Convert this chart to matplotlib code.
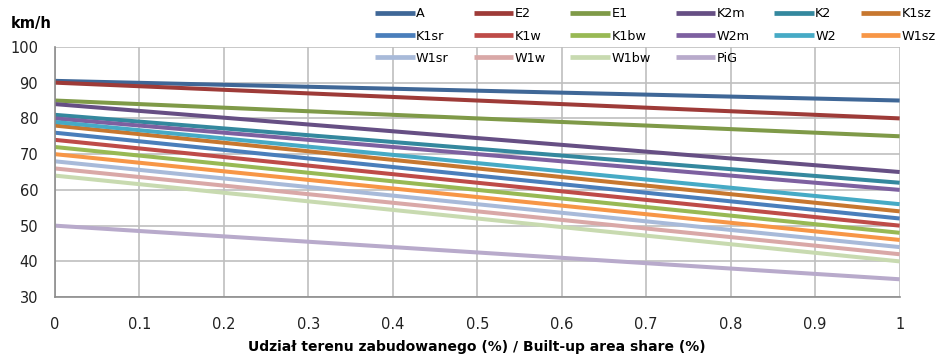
import matplotlib.pyplot as plt

# x range: built-up area share
x = [0, 1]

names = ["A", "E2", "E1", "K2m", "K2", "K1sz",
         "K1sr", "K1w", "K1bw", "W2m", "W2", "W1sz",
         "W1sr", "W1w", "W1bw", "PiG"]

# speed (km/h) at share 0 and share 1
start = [90.5, 90, 85, 84, 81, 78,
         76, 74, 72, 80, 79, 70,
         68, 66, 64, 50]
end = [85, 80, 75, 65, 62, 54,
       52, 50, 48, 60, 56, 46,
       44, 42, 40, 35]

colors = ["#3F6797", "#9E3B38", "#7F9A48", "#664F84", "#34889E", "#C7772F",
          "#4A7EBB", "#BE4B48", "#98B954", "#7D60A0", "#46AAC5", "#F79646",
          "#A8BAD9", "#D9A8A7", "#C8DAB0", "#B8AACB"]

plt.rcParams['font.family'] = ['DejaVu Sans']

fig = plt.figure(figsize=(9.45, 3.58), dpi=100)
ax = fig.add_axes([0.058, 0.170, 0.894, 0.699])

handles = []
for name, s, e, c in zip(names, start, end, colors):
    h, = ax.plot(x, [s, e], color=c, linewidth=2.9, label=name, solid_capstyle='butt')
    handles.append(h)

ax.set_xlim(0, 1)
ax.set_ylim(30, 100)
ax.set_xticks([i / 10 for i in range(11)])
ax.set_xticklabels(["0", "0.1", "0.2", "0.3", "0.4", "0.5", "0.6", "0.7", "0.8", "0.9", "1"])
ax.set_yticks(range(30, 101, 10))
ax.grid(True, color="#BFBFBF", linewidth=1.2)
ax.set_axisbelow(True)
for side in ["top", "right"]:
    ax.spines[side].set_visible(False)
for side in ["left", "bottom"]:
    ax.spines[side].set_color("#8C8C8C")
    ax.spines[side].set_linewidth(1.2)
ax.tick_params(length=0, labelsize=10.5, colors="#222222")
ax.tick_params(axis="x", pad=14)
ax.tick_params(axis="y", pad=12)

ax.set_xlabel("Udział terenu zabudowanego (%) / Built-up area share (%)",
              fontsize=10, fontweight="bold", labelpad=6)
fig.text(0.011, 0.922, "km/h", fontsize=10.5, fontweight="bold")

# legend is filled row by row (6 per row) -> reorder for column-major layout
ncol = 6
order = []
for j in range(ncol):
    for i in range(j, len(handles), ncol):
        order.append(i)
leg = fig.legend([handles[i] for i in order], [names[i] for i in order],
                 loc="upper left", bbox_to_anchor=(0.386, 1.008), ncol=ncol,
                 frameon=False, fontsize=9.2, handlelength=3.1, handletextpad=0.1,
                 columnspacing=1.95, labelspacing=0.72, borderpad=0.3)
for line in leg.get_lines():
    line.set_linewidth(3.4)

fig.savefig("out.png", dpi=100)
